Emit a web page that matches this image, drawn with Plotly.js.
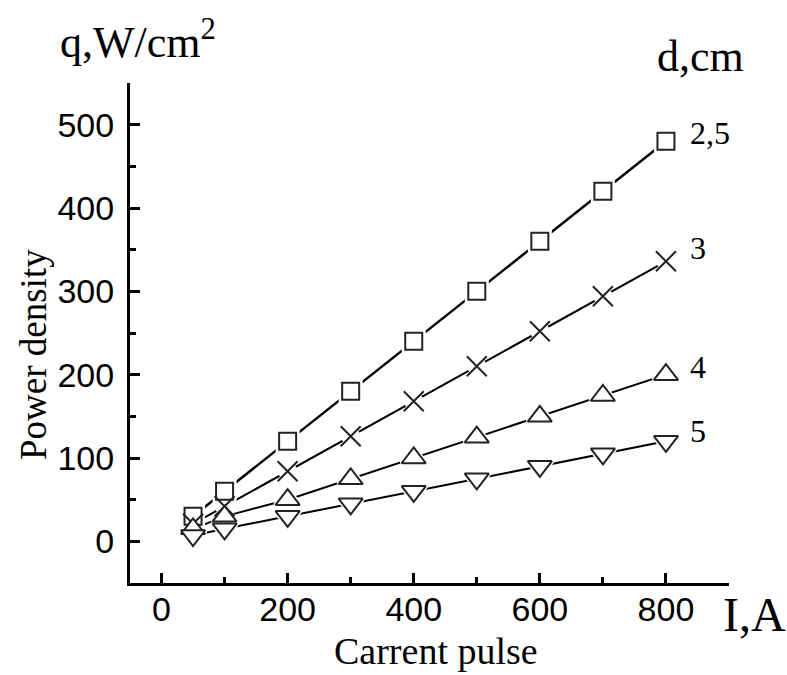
<!DOCTYPE html>
<html>
<head>
<meta charset="utf-8">
<script src="https://cdn.plot.ly/plotly-3.0.1.min.js"></script>
<style>html,body{margin:0;padding:0;background:#fff}#chart{width:787px;height:675px}</style>
</head>
<body>
<div id="chart"></div>
<script>
// Data
const current = [50, 100, 200, 300, 400, 500, 600, 700, 800];
const d25 = [30, 60, 120, 180, 240, 300, 360, 420, 480];
const d3  = [21, 42, 84, 126, 168, 210, 252, 294, 336];
const d4  = [15, 30, 50, 75, 100, 125, 150, 175, 200];
const d5  = [7, 15, 30, 45, 60, 75, 90, 105, 120];
const seriesNames = ['2,5', '3', '4', '5'];
const xTickStep = 200;
const yTickStep = 100;
const xRange = [-50, 900];
const yRange = [-50, 550];

const seriesY = [d25, d3, d4, d5];
const symbols = ['square', 'x-thin', 'triangle-up', 'triangle-down'];
const sizes = [17, 20, 21, 21];
const lineW = [2.5, 2, 2, 2];
const gapSizes = [19, 14, 21, 21];
const gapSym = ['square', 'circle', 'triangle-up', 'triangle-down'];

const traces = [];
// invisible trace that hosts the minor-tick axes
traces.push({x: [current[0]], y: [d25[0]], xaxis: 'x2', yaxis: 'y2', mode: 'markers', marker: {opacity: 0}, hoverinfo: 'skip', showlegend: false});
seriesY.forEach((ys, i) => {
  traces.push({x: current, y: ys, mode: 'lines', line: {color: '#000', width: lineW[i]}, hoverinfo: 'skip', showlegend: false});
});
seriesY.forEach((ys, i) => {
  traces.push({x: current, y: ys, mode: 'markers', marker: {symbol: gapSym[i], size: gapSizes[i], color: '#fff', line: {color: '#fff', width: 5}}, hoverinfo: 'skip', showlegend: false});
});
seriesY.forEach((ys, i) => {
  traces.push({x: current, y: ys, mode: 'markers', name: seriesNames[i],
    marker: {symbol: symbols[i], size: sizes[i], color: i === 1 ? '#000' : '#fff', line: {color: '#222', width: 2}}, showlegend: false});
});

const serif = 'Liberation Serif, Times New Roman, serif';
const sans = 'Liberation Sans, Arial, sans-serif';

const W = 787, H = 675, L = 130, R = 58, T = 83, B = 92;
const pw = W - L - R, ph = H - T - B;
const px = v => (v - L) / pw, py = v => (H - B - v) / ph;
const pann = (text, x, y, size, xanchor, extra) => Object.assign({
  text, x: px(x), y: py(y), xref: 'paper', yref: 'paper', showarrow: false,
  xanchor: xanchor, yanchor: 'middle', font: {family: serif, size: size, color: '#000'}
}, extra || {});

// series labels placed next to the last point of each series
const labelAnns = seriesY.map((ys, i) => ({
  text: seriesNames[i], x: current[current.length - 1], y: ys[ys.length - 1], xref: 'x', yref: 'y',
  showarrow: false, xanchor: 'left', yanchor: 'middle', xshift: 22, yshift: [8, 13, 8, 10][i],
  font: {family: serif, size: 32, color: '#000'}
}));

const axisCommon = {
  showgrid: false, zeroline: false, showline: true, linecolor: '#000', linewidth: 3,
  ticks: 'inside', ticklen: 10, tickwidth: 3, tickcolor: '#000', tick0: 0,
  tickfont: {family: sans, size: 34, color: '#000'}
};
const minorCommon = {
  showgrid: false, zeroline: false, showline: false, showticklabels: false,
  ticks: 'inside', ticklen: 6, tickwidth: 3, tickcolor: '#000', tick0: 0
};

const layout = {
  width: W, height: H,
  margin: {l: L, r: R, t: T, b: B},
  paper_bgcolor: '#fff', plot_bgcolor: '#fff',
  showlegend: false,
  xaxis: Object.assign({}, axisCommon, {range: xRange, dtick: xTickStep, ticklabelstandoff: -6}),
  yaxis: Object.assign({}, axisCommon, {range: yRange, dtick: yTickStep, ticklabelstandoff: 6}),
  xaxis2: Object.assign({}, minorCommon, {range: xRange, dtick: xTickStep / 2, overlaying: 'x', side: 'bottom', anchor: 'y2'}),
  yaxis2: Object.assign({}, minorCommon, {range: yRange, dtick: yTickStep / 2, overlaying: 'y', side: 'left', anchor: 'x2'}),
  annotations: [
    pann('q,W/cm<sup>2</sup>', 58, 40, 44, 'left'),
    pann('d,cm', 700, 57, 44, 'center'),
    pann('I,A', 754, 614, 48, 'center'),
    pann('Carrent pulse', 436, 651, 38, 'center'),
    pann('Power density', 33, 355, 37, 'center', {textangle: -90})
  ].concat(labelAnns)
};

Plotly.newPlot('chart', traces, layout, {staticPlot: true, displayModeBar: false});
</script>
</body>
</html>
